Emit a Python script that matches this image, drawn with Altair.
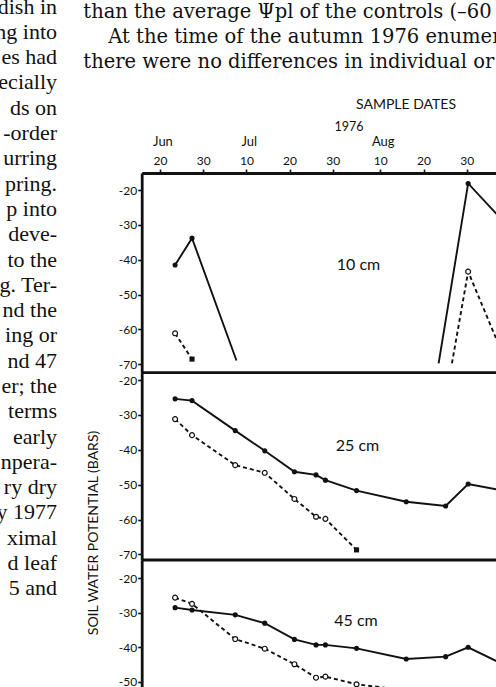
import altair as alt
import pandas as pd

# ---------------- sample dates, 1976 ----------------
D = ["1976-06-23T12:00", "1976-06-27T10:00", "1976-07-07T10:00", "1976-07-14T06:00",
     "1976-07-21T03:00", "1976-07-26T03:00", "1976-07-28T07:00", "1976-08-04T12:00",
     "1976-08-16T00:00", "1976-08-25T03:00", "1976-08-30T08:00"]
SEP10 = "1976-09-10T00:00"

# ---------------- soil water potential (bars) ----------------
# control = solid line, treated = dashed line; "seg" splits a trace where it leaves the scale
c10_dates = [D[0], D[1], "1976-07-07T17:00", "1976-08-23T12:00", D[10], SEP10]
c10_vals = [-41.5, -33.8, -68.9, -69.7, -18.1, -32.3]
c10_sym = ["dot", "dot", "", "", "dot", ""]
c10_seg = [0, 0, 0, 1, 1, 1]

t10_dates = [D[0], D[1], "1976-08-26T14:00", D[10], SEP10]
t10_vals = [-61.1, -68.5, -69.7, -43.4, -75.0]
t10_sym = ["open", "square", "", "open", ""]
t10_seg = [0, 0, 1, 1, 1]

c25_dates = D + [SEP10]
c25_vals = [-25.4, -25.9, -34.5, -40.3, -46.3, -47.2, -48.7, -51.7, -54.9, -56.1, -49.8, -52.3]
c25_sym = ["dot"] * 11 + [""]

t25_dates = D[:8]
t25_vals = [-31.2, -35.8, -44.4, -46.6, -54.1, -59.2, -59.8, -68.7]
t25_sym = ["open"] * 7 + ["square"]

c45_dates = D + [SEP10]
c45_vals = [-28.5, -29.2, -30.6, -33.0, -37.7, -39.3, -39.3, -40.3, -43.4, -42.7, -40.0, -46.5]
c45_sym = ["dot"] * 11 + [""]

t45_dates = D[:9]
t45_vals = [-25.6, -27.4, -37.6, -40.4, -44.9, -48.8, -48.5, -50.7, -52.5]
t45_sym = ["open"] * 9

# axis labelling
month_names = ["Jun", "Jul", "Aug"]
month_dates = ["1976-06-20T00:00", "1976-07-10T00:00", "1976-08-10T00:00"]
tick_days = [(6, 20), (6, 30), (7, 10), (7, 20), (7, 30), (8, 10), (8, 20), (8, 30)]
x_start, x_end = "1976-06-15T18:30", "1976-09-05T18:45"

# surrounding page text
left_col = ["dish in", "ng into", "", "es  had", "ecially", "ds on", "-order", "urring",
            "pring.", "p into", "deve-", "to the", "g. Ter-", "nd the", "ing or", "",
            "nd  47", "er; the", "terms", "", "early", "npera-", "ry dry", "y 1977",
            "ximal", "d leaf", "", "5 and"]
right_lines = ["than the average \u03a8pl of the controls (\u201360",
               "At the time of the autumn 1976 enumera",
               "there were no differences in individual or to"]

rows = []


def add(depth, trt, dates, vals, syms, segs=None):
    segs = segs or [0] * len(dates)
    for d, v, s, g in zip(dates, vals, syms, segs):
        rows.append({"depth": depth, "trt": trt, "date": d, "value": v, "sym": s, "seg": g})


add("10", "control", c10_dates, c10_vals, c10_sym, c10_seg)
add("10", "treated", t10_dates, t10_vals, t10_sym, t10_seg)
add("25", "control", c25_dates, c25_vals, c25_sym)
add("25", "treated", t25_dates, t25_vals, t25_sym)
add("45", "control", c45_dates, c45_vals, c45_sym)
add("45", "treated", t45_dates, t45_vals, t45_sym)
df = pd.DataFrame(rows)
one = pd.DataFrame({"k": [0]})

INK = "#111111"
CHART_FONT = "Lato"
BODY_FONT = "DejaVu Serif"
BODY_SIZE = 19.5
LEFT_FONT = "Liberation Serif"
LEFT_SIZE = 22


def dt(s):
    d, t = s.split("T")
    y, m, dd = (int(p) for p in d.split("-"))
    hh, mm = (int(p) for p in t.split(":"))
    return alt.DateTime(year=y, month=m, date=dd, hours=hh, minutes=mm)


x_scale = alt.Scale(domain=[dt(x_start), dt(x_end)], range=[141.7, 496])
x_axis = alt.Axis(orient="top", offset=-173, title=None, grid=False, format="%d",
                  values=[alt.DateTime(year=1976, month=m, date=d) for m, d in tick_days],
                  tickSize=4, tickWidth=1.6, domainWidth=2.8, labelPadding=2,
                  labelFontSize=12, labelFont=CHART_FONT)
X = alt.X("date:T", scale=x_scale, axis=x_axis)


def panel(depth, y_dom, y_rng, y_ticks, label, label_xy, top_rule=True):
    ys = alt.Scale(domain=y_dom, range=y_rng, nice=False, zero=False)
    yax = alt.Axis(orient="left", offset=-141.7, values=y_ticks, title=None, grid=False,
                   labelExpr="'-' + abs(datum.value)", tickSize=4, tickWidth=1.6,
                   domainWidth=2.8, labelPadding=1, labelFontSize=12, labelFont=CHART_FONT)
    Y = alt.Y("value:Q", scale=ys, axis=yax)
    base = alt.Chart(df).transform_filter(alt.datum.depth == depth)
    ctrl = base.transform_filter(alt.datum.trt == "control").mark_line(
        color=INK, strokeWidth=1.9, clip=True).encode(X, Y, detail="seg:N")
    trt = base.transform_filter(alt.datum.trt == "treated").mark_line(
        color=INK, strokeWidth=1.9, strokeDash=[4, 3], clip=True).encode(X, Y, detail="seg:N")
    dots = base.transform_filter(alt.datum.sym == "dot").mark_point(
        shape="circle", filled=True, color=INK, size=26, opacity=1, clip=True).encode(X, Y)
    opens = base.transform_filter(alt.datum.sym == "open").mark_point(
        shape="circle", filled=True, fill="white", stroke=INK, strokeWidth=1.2,
        size=24, opacity=1, clip=True).encode(X, Y)
    squares = base.transform_filter(alt.datum.sym == "square").mark_point(
        shape="square", filled=True, color=INK, size=26, opacity=1, clip=True).encode(X, Y)
    lab = alt.Chart(one).mark_text(text=label, font=CHART_FONT, fontSize=16, color=INK,
                                   align="center", baseline="middle").encode(
        x=alt.value(label_xy[0]), y=alt.value(label_xy[1]))
    layers = [ctrl, trt, dots, opens, squares, lab]
    if top_rule:
        sep = alt.Chart(pd.DataFrame({"date": [x_start], "end": [x_end], "value": [y_dom[1]]})
                        ).mark_rule(color=INK, strokeWidth=2.8).encode(X, x2="end:T", y=Y)
        layers.append(sep)
    return alt.layer(*layers)


p10 = panel("10", [-72.4, -15.1], [372.7, 173], [-20, -30, -40, -50, -60, -70],
            "10 cm", (358.5, 265), top_rule=False)
p25 = panel("25", [-71.6, -17.9], [560, 372.7], [-20, -30, -40, -50, -60, -70],
            "25 cm", (357.5, 446))
p45 = panel("45", [-51.5, -14.7], [687, 560], [-20, -30, -40, -50],
            "45 cm", (356, 621))

months = alt.Chart(pd.DataFrame({"date": month_dates, "name": month_names})).mark_text(
    font=CHART_FONT, fontSize=13, color=INK, align="center", baseline="middle", dx=3
).encode(X, y=alt.value(142), text="name:N")

year = alt.Chart(one).mark_text(text="1976", font=CHART_FONT, fontSize=12.5, color=INK,
                                align="center", baseline="middle").encode(
    x=alt.value(349), y=alt.value(127))
sample = alt.Chart(one).mark_text(text="SAMPLE DATES", font=CHART_FONT, fontSize=14,
                                  color=INK, align="center", baseline="middle").encode(
    x=alt.value(406), y=alt.value(105))
ytitle = alt.Chart(one).mark_text(text="SOIL WATER POTENTIAL (BARS)", font=CHART_FONT,
                                  fontSize=14, color=INK, angle=270, align="center",
                                  baseline="middle").encode(
    x=alt.value(94), y=alt.value(533))

body_left = alt.Chart(one).mark_text(text=left_col, font=LEFT_FONT, fontSize=LEFT_SIZE,
                                     color=INK, align="right", baseline="top",
                                     lineHeight=25.3).encode(
    x=alt.value(57), y=alt.value(-3.5))
body_r = [
    alt.Chart(one).mark_text(text=t, font=BODY_FONT, fontSize=BODY_SIZE, color=INK,
                             align="left", baseline="top").encode(
        x=alt.value(xx), y=alt.value(yy))
    for t, xx, yy in zip(right_lines, [83.3, 108.3, 83.3], [3.3, 28.3, 53])
]

chart = alt.layer(p10, p25, p45, months, year, sample, ytitle, body_left, *body_r
                  ).resolve_scale(y="independent").properties(
    width=496, height=687, padding=0,
    autosize=alt.AutoSizeParams(type="none"),
).configure_view(stroke=None).configure_axis(
    domainColor=INK, tickColor=INK, labelColor=INK)

chart.save("out.html", embed_options={"renderer": "svg", "actions": False})
